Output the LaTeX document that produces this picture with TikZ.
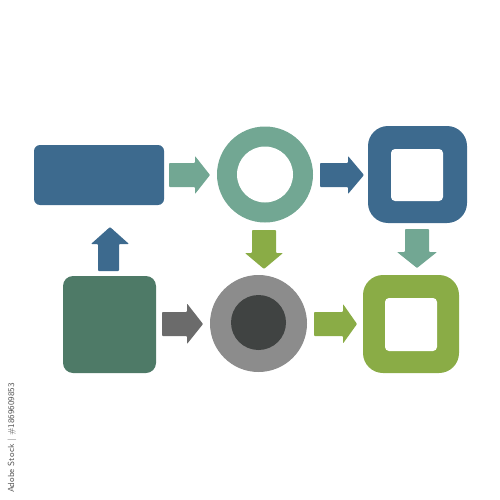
\documentclass[tikz,border=0pt]{standalone}
\definecolor{cblue}{HTML}{3D6A8E}
\definecolor{cteal}{HTML}{72A793}
\definecolor{cgreen}{HTML}{4E7A67}
\definecolor{clime}{HTML}{8AAC46}
\definecolor{cgray}{HTML}{8C8C8C}
\definecolor{cdark}{HTML}{404342}
\definecolor{carrowgray}{HTML}{6B6B6B}
\definecolor{cwm}{HTML}{555555}
\tikzset{
  box/.style={rectangle, inner sep=0pt, outer sep=0pt},
  disc/.style={circle, inner sep=0pt, outer sep=0pt},
  hole/.style={fill=white},
  blockarrow/.style={rounded corners=0.8pt}
}
\begin{document}
\begin{tikzpicture}[x=1pt,y=-1pt]
\useasboundingbox (0,0) rectangle (500,500);
% top row
\node[box, fill=cblue, rounded corners=6pt, minimum width=130pt, minimum height=60pt] (rect) at (99,175) {};
\node[disc, fill=cteal, minimum size=96pt] (ring) at (265,174.5) {};
\node[disc, hole, minimum size=56pt] (ringhole) at (265,174.5) {};
\node[box, fill=cblue, rounded corners=20pt, minimum width=99pt, minimum height=97pt] (bsq) at (417.5,174.5) {};
\node[box, hole, rounded corners=4pt, minimum width=52pt, minimum height=52pt] (bsqhole) at (417,175) {};
% bottom row
\node[box, fill=cgreen, rounded corners=10pt, minimum width=93pt, minimum height=97pt] (gsq) at (109.5,324.5) {};
\node[disc, fill=cgray, minimum size=97pt] (gcirc) at (258.5,323.5) {};
\node[disc, fill=cdark, minimum size=55pt] (gcore) at (258.5,322.5) {};
\node[box, fill=clime, rounded corners=20pt, minimum width=96pt, minimum height=98pt] (lsq) at (411,324) {};
\node[box, hole, rounded corners=4pt, minimum width=52pt, minimum height=53pt] (lsqhole) at (411,324.5) {};
% block arrows
\fill[cteal, blockarrow] (169,163) -- (195,163) -- (195,156) -- (210,175) -- (195,194) -- (195,187) -- (169,187) -- cycle;
\fill[cblue, blockarrow] (320,163) -- (348,163) -- (348,156) -- (364,175) -- (348,194) -- (348,187) -- (320,187) -- cycle;
\fill[carrowgray, blockarrow] (162,312) -- (187,312) -- (187,303.5) -- (203,324) -- (187,344) -- (187,336) -- (162,336) -- cycle;
\fill[clime, blockarrow] (314,312) -- (343,312) -- (343,304) -- (357,324) -- (343,343.5) -- (343,336) -- (314,336) -- cycle;
\fill[cblue, blockarrow] (98,271) -- (98,244) -- (91,244) -- (110,227) -- (129,244) -- (119,244) -- (119,271) -- cycle;
\fill[clime, blockarrow] (252,230) -- (276,230) -- (276,253) -- (283,253) -- (264,269) -- (245,253) -- (252,253) -- cycle;
\fill[cteal, blockarrow] (405,229) -- (429,229) -- (429,252) -- (437,252) -- (417,268) -- (397,252) -- (405,252) -- cycle;
% watermark id
\node[rotate=90, anchor=south east, inner sep=0pt, text=cwm, font=\sffamily\fontsize{8.8}{10}\selectfont] (wm) at (16.5,383) {Adobe Stock | \#1869609853};
\end{tikzpicture}
\end{document}
